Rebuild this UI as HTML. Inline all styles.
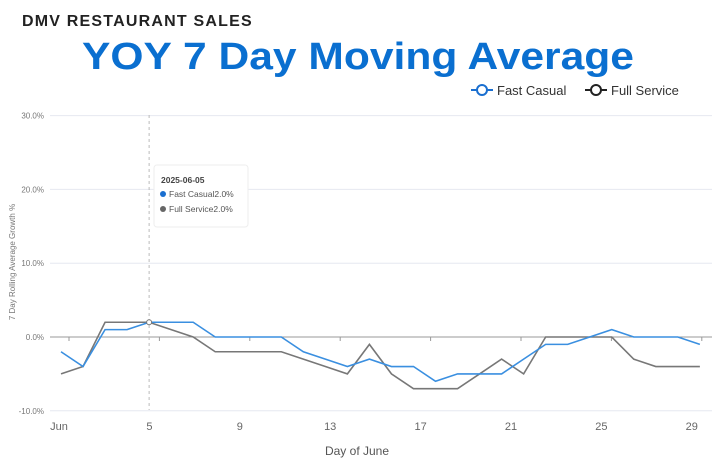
<!DOCTYPE html>
<html><head><meta charset="utf-8"><style>
body{margin:0;width:716px;height:462px;background:#fff;overflow:hidden;font-family:"Liberation Sans",sans-serif}
#sup{position:absolute;left:22px;top:13px;font:900 16px "Liberation Sans",sans-serif;letter-spacing:1.2px;color:#222}
#title{position:absolute;left:0;width:716px;top:36px;text-align:center;font:900 38px "Liberation Sans",sans-serif;color:#0a6fd0;transform:scaleX(1.12)}
</style></head><body>
<div id="sup">DMV RESTAURANT SALES</div>
<div id="title">YOY 7 Day Moving Average</div>
<svg id="c" width="716" height="462" style="position:absolute;left:0;top:0"></svg>
<script>
const days=[1,2,3,4,5,6,7,8,9,10,11,12,13,14,15,16,17,18,19,20,21,22,23,24,25,26,27,28,29,30];
const fastCasual=[-2,-4,1,1,2,2,2,0,0,0,0,-2,-3,-4,-3,-4,-4,-6,-5,-5,-5,-3,-1,-1,0,1,0,0,0,-1];
const fullService=[-5,-4,2,2,2,1,0,-2,-2,-2,-2,-3,-4,-5,-1,-5,-7,-7,-7,-5,-3,-5,0,0,0,0,-3,-4,-4,-4];
const yTicks=[30,20,10,0,-10];
const xTickDays=[1,5,9,13,17,21,25,29];
const xTickLabels=["Jun","5","9","13","17","21","25","29"];
const NS="http://www.w3.org/2000/svg",svg=document.getElementById('c');
const x=d=>61+(d-1)*22.03, y=v=>337-v*7.38, xl=d=>59+(d-1)*22.6;
function el(t,a,p){const e=document.createElementNS(NS,t);for(const k in a)e.setAttribute(k,a[k]);(p||svg).appendChild(e);return e;}
yTicks.forEach(v=>{
 const g=el('line',{x1:50,x2:712,y1:y(v),y2:y(v),stroke:v===0?'#999':'#e6e8f0','stroke-width':1});
 
 
 const t=el('text',{x:44,y:y(v)+3,'text-anchor':'end','font-size':8,fill:'#777'});t.textContent=v.toFixed(1)+'%';
 
 
});
xTickDays.forEach((d,i)=>{
 const t=el('text',{x:xl(d),y:430,'text-anchor':'middle','font-size':11,fill:'#666'});t.textContent=xTickLabels[i];
 
 
 const tk=el('line',{x1:xl(d)+10,x2:xl(d)+10,y1:337,y2:341,stroke:'#999'});
 
 
});
const xt=el('text',{x:357,y:455,'text-anchor':'middle','font-size':12,fill:'#555'});xt.textContent='Day of June';


const yt=el('text',{x:0,y:0,'text-anchor':'middle','font-size':8,fill:'#777',transform:'translate(15,262) rotate(-90)'});yt.textContent='7 Day Rolling Average Growth %';


const cl=el('line',{x1:x(5),x2:x(5),y1:115,y2:410,stroke:'#bbb','stroke-dasharray':'3,3'});


function series(vals,col,name){
 const p=el('polyline',{points:vals.map((v,i)=>x(days[i])+','+y(v)).join(' '),fill:'none',stroke:col,'stroke-width':1.6});
 
 
}
series(fullService,'#777','full-service-line');
series(fastCasual,'#3a8fe0','fast-casual-line');
const hp=el('circle',{cx:x(5),cy:y(fullService[4]),r:2.5,fill:'#fff',stroke:'#777'});


const tg=el('g',{});


el('rect',{x:154,y:165,width:94,height:62,rx:3,fill:'#fff',stroke:'#eee'},tg);
const tt=el('text',{x:161,y:183,'font-size':8.5,fill:'#444','font-weight':'bold'},tg);tt.textContent='2025-06-05';
el('circle',{cx:163,cy:194,r:3,fill:'#1a6fd0'},tg);
const t1=el('text',{x:169,y:197,'font-size':8.5,fill:'#555'},tg);t1.textContent='Fast Casual'+fastCasual[4].toFixed(1)+'%';
el('circle',{cx:163,cy:209,r:3,fill:'#666'},tg);
const t2=el('text',{x:169,y:212,'font-size':8.5,fill:'#555'},tg);t2.textContent='Full Service'+fullService[4].toFixed(1)+'%';
function leg(x0,col,label,name){
 const g=el('g',{});
 
 
 el('line',{x1:x0,x2:x0+22,y1:90,y2:90,stroke:col,'stroke-width':2},g);
 el('circle',{cx:x0+11,cy:90,r:5,fill:'#fff',stroke:col,'stroke-width':2},g);
 const t=el('text',{x:x0+26,y:95,'font-size':13,fill:'#333'},g);t.textContent=label;
}
leg(471,'#1a6fd0','Fast Casual','legend-fast-casual');
leg(585,'#222','Full Service','legend-full-service');
</script>
</body></html>
